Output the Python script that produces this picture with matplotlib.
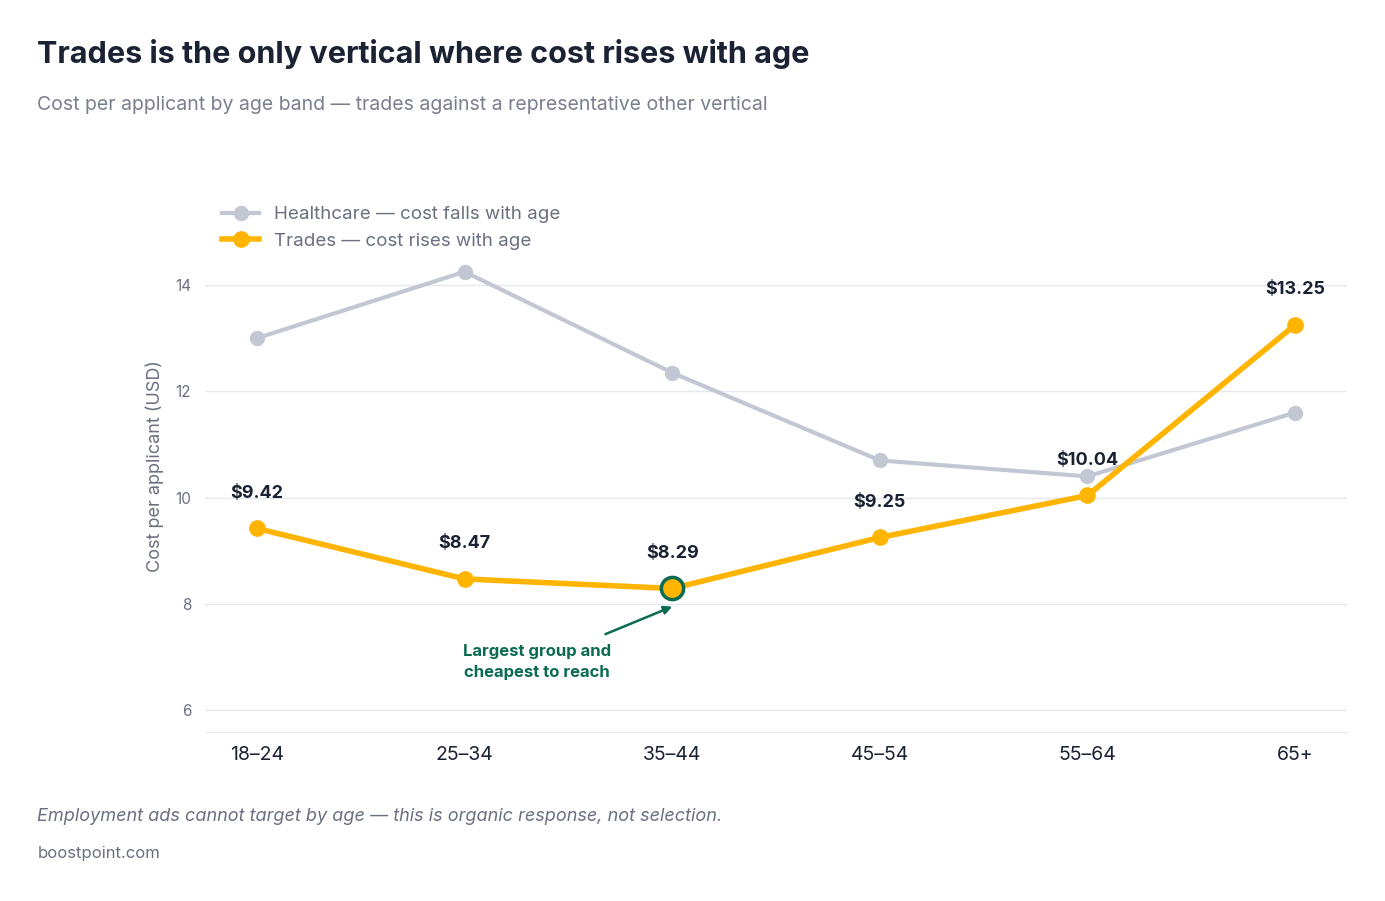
import matplotlib
matplotlib.use("Agg")
import matplotlib.pyplot as plt

categories = ["18–24", "25–34", "35–44", "45–54", "55–64", "65+"]
healthcare = [13.0, 14.25, 12.35, 10.7, 10.4, 11.6]
trades = [9.42, 8.47, 8.29, 9.25, 10.04, 13.25]
yticks = [6, 8, 10, 12, 14]

plt.rcParams['font.family'] = ['Inter', 'DejaVu Sans']
fig = plt.figure(figsize=(13.85, 9.01), dpi=100)
ax = fig.add_axes([0.148, 0.1876, 0.8246, 0.5904])
x = list(range(len(categories)))
gray = "#c3c7d4"; gold = "#ffb400"; green = "#0b6b52"; dark = "#1a2233"
ax.plot(x, healthcare, color=gray, lw=3, marker="o", ms=10, label="Healthcare — cost falls with age", zorder=2)
ax.plot(x, trades, color=gold, lw=4, marker="o", ms=11, label="Trades — cost rises with age", zorder=3)
ax.plot([2], [trades[2]], marker="o", ms=16, mfc=gold, mec=green, mew=2.5, zorder=4, ls="none")
for i, v in enumerate(trades):
    ax.annotate(f"${v:.2f}", (i, v), xytext=(0, 22), textcoords="offset points",
                ha="center", fontsize=13, fontweight="bold", color=dark)
ax.annotate("Largest group and\ncheapest to reach", xy=(2, 7.95), xytext=(1.35, 6.9),
            ha="center", va="center", fontsize=12, fontweight="bold", color=green, linespacing=1.5,
            arrowprops=dict(arrowstyle="-|>", color=green, lw=1.8, shrinkA=14, shrinkB=0))
ax.set_xlim(-0.25, 5.25); ax.set_ylim(5.59, 15.6)
ax.set_xticks(x); ax.set_xticklabels(categories, fontsize=14, color=dark)
ax.set_yticks(yticks); ax.set_yticklabels([str(t) for t in yticks], fontsize=11, color="#6b7080")
ax.tick_params(length=0, pad=10)
ax.grid(axis="y", color="#e6e8ef", lw=1); ax.set_axisbelow(True)
for s in ["top", "right", "left"]: ax.spines[s].set_visible(False)
ax.spines["bottom"].set_color("#e6e8ef")
ax.set_ylabel("Cost per applicant (USD)", fontsize=13, color="#6b7080", labelpad=8)
leg = ax.legend(loc="upper left", bbox_to_anchor=(0.0, 1.02), frameon=False, fontsize=13.5,
                handlelength=2, labelcolor="#6b7080")
fig.text(0.027, 0.94, "Trades is the only vertical where cost rises with age", fontsize=22, fontweight="bold", color=dark, va="center")
fig.text(0.027, 0.883, "Cost per applicant by age band — trades against a representative other vertical", fontsize=14, color="#7a7f8e", va="center")
fig.text(0.027, 0.094, "Employment ads cannot target by age — this is organic response, not selection.", fontsize=13, style="italic", color="#6b7080", va="center")
fig.text(0.027, 0.053, "boostpoint.com", fontsize=12, color="#6b7080", va="center")
fig.savefig("out.png", dpi=100, facecolor="white")
